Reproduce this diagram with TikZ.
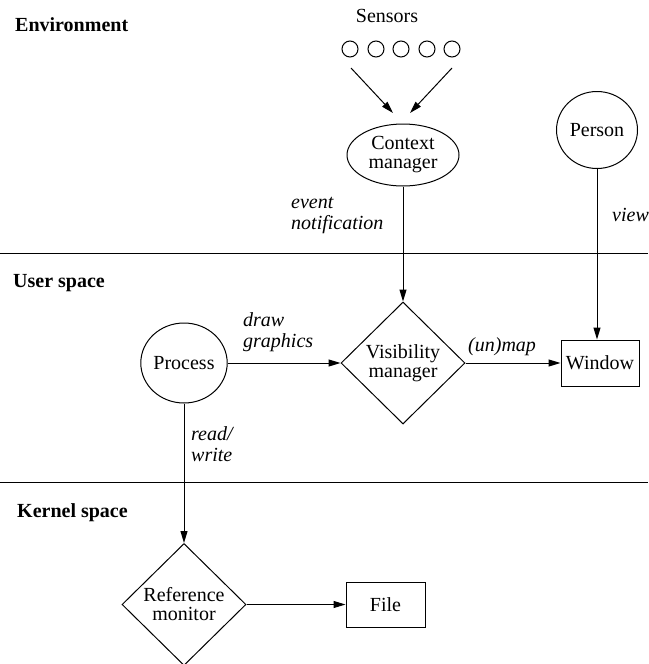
\documentclass[tikz,border=0pt]{standalone}
\usepackage{fontspec}
\setmainfont{Liberation Serif}
\usetikzlibrary{shapes.geometric,arrows.meta}
\tikzset{
  every node/.style={font=\fontsize{20}{21}\selectfont},
  lbl/.style={font=\fontsize{20}{21}\selectfont\itshape, anchor=west, align=left, inner sep=0pt},
  zone/.style={font=\fontsize{20}{21}\selectfont\bfseries, anchor=base west, inner sep=0pt},
  conn/.style={line width=1pt, -{Triangle[length=12pt,width=7pt]}},
  plain/.style={line width=1pt},
  sensor/.style={draw, circle, line width=1pt, minimum size=16pt, inner sep=0pt},
  roundnode/.style={draw, ellipse, line width=1pt, inner sep=0pt, align=center},
  dia/.style={draw, diamond, line width=1pt, minimum width=124pt, minimum height=122pt, inner sep=0pt, align=center},
  boxnode/.style={draw, rectangle, line width=1pt, inner sep=0pt, align=center}
}
\begin{document}
\begin{tikzpicture}[x=1pt,y=-1pt]
\useasboundingbox (0,0) rectangle (648,664);
% separators
\coordinate (l1a) at (0,253); \coordinate (l1b) at (648,253);
\coordinate (l2a) at (0,482); \coordinate (l2b) at (648,482);
\draw[plain] (l1a) -- (l1b);
\draw[plain] (l2a) -- (l2b);
% zone labels
\node[zone] (env) at (15,31) {Environment};
\node[zone] (usr) at (13,287) {User space};
\node[zone] (ker) at (17,517) {Kernel space};
% sensors
\node[inner sep=0pt] (senslbl) at (387,16) {Sensors};
\node[sensor] (s1) at (350,49) {};
\node[sensor] (s2) at (376,49) {};
\node[sensor] (s3) at (401,49) {};
\node[sensor] (s4) at (427,49) {};
\node[sensor] (s5) at (452,49) {};
\node[roundnode, minimum width=112pt, minimum height=62pt] (cm) at (403,155) {Context\\[-2pt]manager};
\coordinate (a1s) at (351,68); \coordinate (a1e) at (393,113);
\coordinate (a2s) at (452,68); \coordinate (a2e) at (410,113);
\draw[conn] (a1s) -- (a1e);
\draw[conn] (a2s) -- (a2e);
% person
\node[roundnode, minimum width=81pt, minimum height=77pt] (person) at (597,130) {Person};
% user space
\node[dia] (vm) at (403,363) {Visibility\\[-2pt]manager};
\node[roundnode, minimum width=82pt, minimum height=80pt] (proc) at (184,363) {Process};
\node[boxnode, minimum width=78pt, minimum height=46pt] (win) at (600,363) {Window};
% kernel
\node[dia] (rm) at (184,604.5) {Reference\\[-2pt]monitor};
\node[boxnode, minimum width=79pt, minimum height=45pt] (file) at (385.5,604.5) {File};
% connectors
\draw[conn] (cm.south) -- (vm.north);
\draw[conn] (person.south) -- (person.south |- win.north);
\draw[conn] (proc.east) -- (vm.west);
\draw[conn] (vm.east) -- (win.west);
\draw[conn] (proc.south) -- (rm.north);
\draw[conn] (rm.east) -- (file.west);
% connector labels
\node[lbl] (evl) at (291,215) {event\\notification};
\node[lbl] (vwl) at (612,215) {view};
\node[lbl] (dgl) at (243,332) {draw\\graphics};
\node[lbl] (uml) at (468,347) {(un)map};
\node[lbl] (rwl) at (191,444) {read/\\write};
\end{tikzpicture}
\end{document}
